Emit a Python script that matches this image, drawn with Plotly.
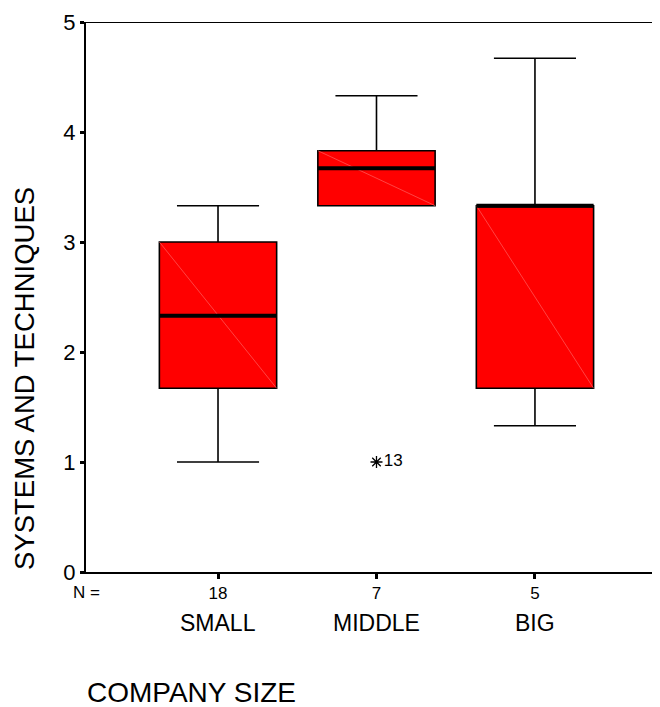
import plotly.graph_objects as go

categories = ["SMALL", "MIDDLE", "BIG"]
n_counts = ["18", "7", "5"]
q1 = [1.67, 3.33, 1.67]
median = [2.33, 3.67, 3.33]
q3 = [3.00, 3.83, 3.33]
lower_whisker = [1.00, 3.33, 1.33]
upper_whisker = [3.33, 4.33, 4.67]
outlier_cat = [1]
outlier_val = [1.0]
outlier_label = ["13"]

positions = list(range(len(categories)))
box_w = 0.74
FONT = "Liberation Sans, Arial, sans-serif"

fig = go.Figure()

for i in positions:
    fig.add_trace(go.Box(
        x=[i], q1=[q1[i]], median=[median[i]], q3=[q3[i]],
        lowerfence=[lower_whisker[i]], upperfence=[upper_whisker[i]],
        width=box_w, whiskerwidth=0.70,
        fillcolor="#ff0000", line=dict(color="#000000", width=1.6),
        boxpoints=False, showlegend=False, hoverinfo="skip",
    ))

# faint diagonals inside boxes
dx, dy = [], []
for i in positions:
    dx += [i - box_w / 2, i + box_w / 2, None]
    dy += [q3[i], q1[i], None]
fig.add_trace(go.Scatter(x=dx, y=dy, mode="lines",
                         line=dict(color="#ff7070", width=0.6),
                         showlegend=False, hoverinfo="skip"))

# thick median lines
mx, my = [], []
for i in positions:
    mx += [i - box_w / 2, i + box_w / 2, None]
    my += [median[i], median[i], None]
fig.add_trace(go.Scatter(x=mx, y=my, mode="lines",
                         line=dict(color="#000000", width=4),
                         showlegend=False, hoverinfo="skip"))

# outlier
fig.add_trace(go.Scatter(
    x=outlier_cat, y=outlier_val, mode="markers+text",
    marker=dict(symbol="asterisk-open", size=10, color="#000000",
                line=dict(color="#000000", width=1.3)),
    text=outlier_label, textposition="middle right",
    textfont=dict(family=FONT, size=17, color="#000000"),
    showlegend=False, hoverinfo="skip"))

annotations = []
for i in positions:
    annotations.append(dict(x=i, y=0, xref="x", yref="paper", text=categories[i],
                            showarrow=False, yanchor="middle", yshift=-51,
                            font=dict(family=FONT, size=23, color="#000000")))
annotations.append(dict(x=0, y=0, xref="paper", yref="paper", text="N =",
                        showarrow=False, yanchor="middle", xanchor="center", yshift=-20,
                        font=dict(family=FONT, size=17, color="#000000")))
annotations.append(dict(x=0.183, y=0, xref="paper", yref="paper", text="COMPANY SIZE",
                        showarrow=False, yanchor="middle", xanchor="center", yshift=-120,
                        font=dict(family=FONT, size=28, color="#000000")))
annotations.append(dict(x=0, y=0.351, xref="paper", yref="paper", text="SYSTEMS AND TECHNIQUES",
                        showarrow=False, textangle=-90, xanchor="center", yanchor="middle",
                        xshift=-61, borderpad=0,
                        font=dict(family=FONT, size=27.5, color="#000000")))

fig.update_layout(
    width=652, height=699,
    margin=dict(l=78, r=0, t=14, b=135),
    paper_bgcolor="white", plot_bgcolor="white",
    showlegend=False,
    annotations=annotations,
    shapes=[dict(type="line", xref="paper", yref="y", x0=0, x1=1, y0=5, y1=5,
                 line=dict(color="#000000", width=2))],
    xaxis=dict(range=[-0.833, 2.789], tickmode="array", tickvals=positions, ticktext=n_counts,
               showgrid=False, zeroline=False, showline=True, linecolor="#000000", linewidth=2,
               ticks="outside", ticklen=5, tickwidth=3, tickcolor="#000000",
               tickfont=dict(family=FONT, size=17, color="#000000")),
    yaxis=dict(range=[0, 5], tickmode="array", tickvals=[0, 1, 2, 3, 4, 5],
               showgrid=False, zeroline=False, showline=True, linecolor="#000000", linewidth=2,
               ticks="outside", ticklen=4, tickwidth=3, tickcolor="#000000",
               tickfont=dict(family=FONT, size=22, color="#000000")),
)

fig.write_html("out.html")
